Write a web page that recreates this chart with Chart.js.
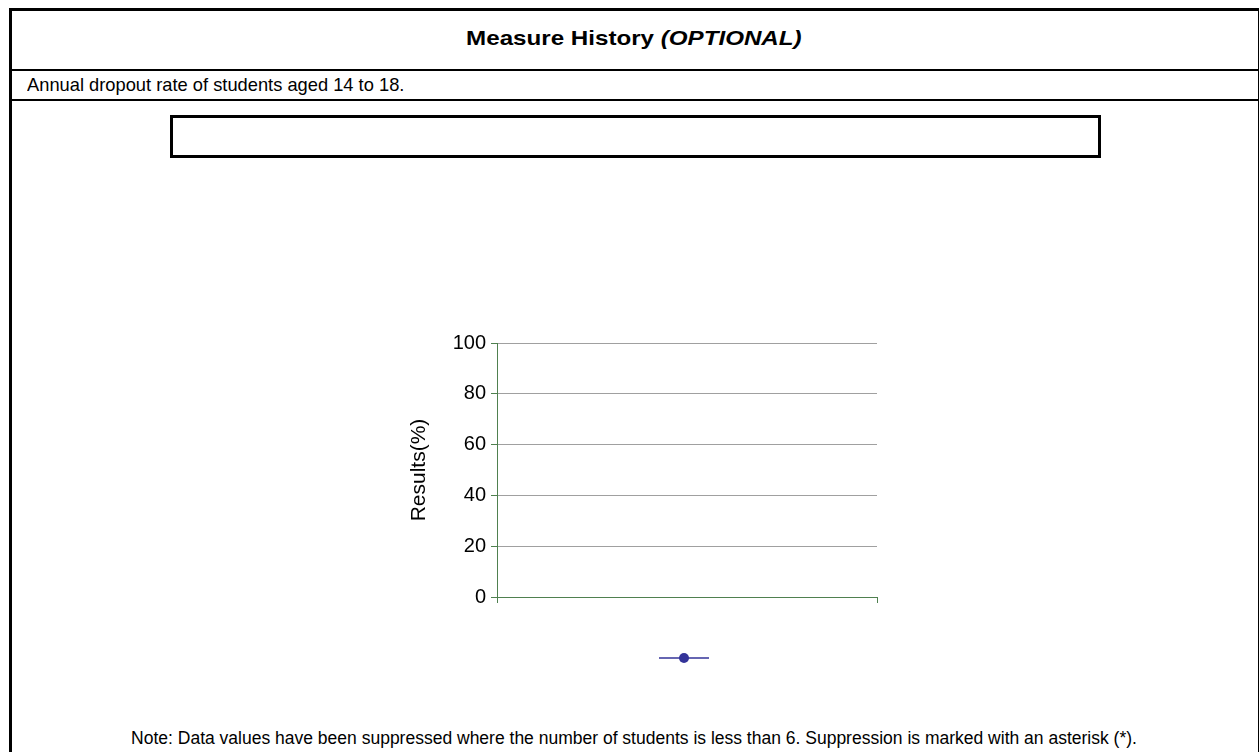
<!DOCTYPE html>
<html>
<head>
<meta charset="utf-8">
<script src="https://cdn.jsdelivr.net/npm/chart.js@4"></script>
<style>
  body { margin: 0; background: #fff; font-family: Arial, "Liberation Sans", sans-serif; }
  .frame { position: absolute; left: 9px; top: 8px; width: 1246px; height: 760px;
           border-left: 3px solid #000; border-top: 3px solid #000; border-right: 2px solid #000; }
  .rule { position: absolute; left: 9px; width: 1249px; height: 2px; background: #000; }
  .heading { position: absolute; left: 12px; width: 1244px; top: 26px; text-align: center;
             font-weight: bold; font-size: 21px; }
  .heading span { display: inline-block; transform: scaleX(1.15); }
  .desc { position: absolute; left: 27px; top: 74px; font-size: 19px;
          transform: scaleX(0.963); transform-origin: left center; white-space: nowrap; }
  .box { position: absolute; left: 170px; top: 115px; width: 925px; height: 37px; border: 3px solid #000; }
  .note { position: absolute; left: 12px; width: 1244px; top: 728px; text-align: center; font-size: 17.5px; }
  #chartWrap { position: absolute; left: 360px; top: 320px; width: 560px; height: 390px; }
</style>
</head>
<body>
<div class="frame"></div>
<div class="rule" style="top:69px"></div>
<div class="rule" style="top:99px"></div>
<div class="heading"><span>Measure History <i>(OPTIONAL)</i></span></div>
<div class="desc">Annual dropout rate of students aged 14 to 18.</div>
<div class="box"></div>
<div id="chartWrap"><canvas id="historyChart"></canvas></div>
<div class="note">Note: Data values have been suppressed where the number of students is less than 6. Suppression is marked with an asterisk (*).</div>

<script>
// no years reported, so the one category is blank and its value suppressed
const years = [''];
const dropout_rates = [null];
const y_ticks = [0, 20, 40, 60, 80, 100];

const axis_green = '#4f804f';
const grid_grey = '#a0a0a0';
const series_blue = '#333399';

// legend swatch: short line with a dot in the middle
function legendSwatch() {
    const c = document.createElement('canvas');
    c.width = 50;
    c.height = 12;
    const g = c.getContext('2d');
    g.strokeStyle = series_blue;
    g.lineWidth = 1.5;
    g.beginPath();
    g.moveTo(0, 6);
    g.lineTo(50, 6);
    g.stroke();
    g.fillStyle = series_blue;
    g.beginPath();
    g.arc(25, 6, 5, 0, Math.PI * 2);
    g.fill();
    return c;
}

const swatch = legendSwatch();

const config = {
    type: 'line',
    data: {
        labels: years,
        datasets: [{
            label: '',
            data: dropout_rates,
            borderColor: series_blue,
            backgroundColor: series_blue,
            pointRadius: 5,
            borderWidth: 1.5,
            fill: false
        }]
    },
    options: {
        responsive: true,
        maintainAspectRatio: false,
        animation: false,
        layout: {
            padding: { left: 40, right: 43, top: 23, bottom: 36 }
        },
        plugins: {
            tooltip: { enabled: false },
            legend: {
                position: 'bottom',
                fullSize: false,
                labels: {
                    usePointStyle: true,
                    pointStyleWidth: 50,
                    padding: 49,
                    font: { size: 12 },
                    generateLabels: () => [{
                        text: '',
                        pointStyle: swatch,
                        fillStyle: series_blue,
                        strokeStyle: series_blue,
                        lineWidth: 0,
                        datasetIndex: 0
                    }]
                }
            }
        },
        scales: {
            x: {
                offset: true,
                border: { color: axis_green, width: 1 },
                grid: {
                    offset: true,
                    drawOnChartArea: false,
                    drawTicks: true,
                    tickLength: 6,
                    tickColor: axis_green
                },
                ticks: { display: false }
            },
            y: {
                min: 0,
                max: 100,
                afterBuildTicks: (axis) => { axis.ticks = y_ticks.map(v => ({ value: v })); },
                afterFit: (axis) => { axis.width = 97; },
                border: { color: axis_green, width: 1 },
                grid: {
                    color: grid_grey,
                    tickColor: axis_green,
                    tickLength: 6
                },
                ticks: {
                    color: '#000',
                    padding: 5,
                    font: { family: 'Arial, "Liberation Sans", sans-serif', size: 20 }
                },
                title: {
                    display: true,
                    text: 'Results(%)',
                    color: '#000',
                    padding: { top: 7, bottom: 0 },
                    font: { family: 'Arial, "Liberation Sans", sans-serif', size: 21 }
                }
            }
        }
    }
};

const ctx = document.getElementById('historyChart').getContext('2d');
const history_chart = new Chart(ctx, config);
</script>
</body>
</html>
